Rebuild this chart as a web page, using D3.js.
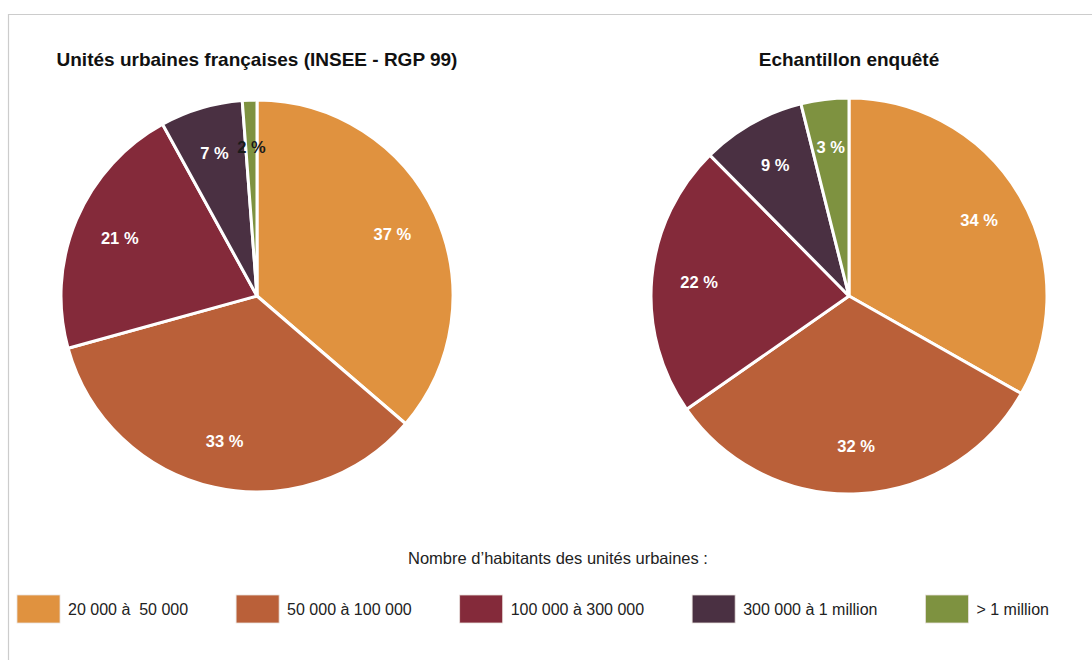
<!DOCTYPE html>
<html>
<head>
<meta charset="utf-8">
<script src="https://cdn.jsdelivr.net/npm/d3@7"></script>
<style>
  html, body { margin: 0; padding: 0; background: #fff; }
  svg { display: block; }
  text { font-family: "Liberation Sans", Arial, Helvetica, sans-serif; }
</style>
</head>
<body>
<svg id="chart" width="1092" height="660"></svg>
<script>
// ---- data ----
const categories = ["20 000 à  50 000", "50 000 à 100 000", "100 000 à 300 000", "300 000 à 1 million", "> 1 million"];
const colors = ["#E0923F", "#BA6039", "#842A3A", "#4A3042", "#7E9240"];
// slice shares as drawn (percent)
const leftShares = [36.3, 34.4, 21.3, 6.8, 1.2];
const rightShares = [33.2, 32.1, 22.3, 8.5, 3.9];
// labels as printed in the slices
const leftLabels = ["37 %", "33 %", "21 %", "7 %", "2 %"];
const rightLabels = ["34 %", "32 %", "22 %", "9 %", "3 %"];
const titles = ["Unités urbaines françaises (INSEE - RGP 99)", "Echantillon enquêté"];
const legendTitle = "Nombre d’habitants des unités urbaines :";

// ---- drawing ----
const svg = d3.select("#chart");
const W = 1092, H = 660;

// frame
svg.append("line").attr("x1", 8).attr("x2", W).attr("y1", 14.5).attr("y2", 14.5)
  .attr("stroke", "#cccccc").attr("stroke-width", 1.2);
svg.append("line").attr("x1", 8.5).attr("x2", 8.5).attr("y1", 14).attr("y2", H)
  .attr("stroke", "#cccccc").attr("stroke-width", 1.2);

const pies = [
  { cx: 257, cy: 296, r: 196, shares: leftShares, labels: leftLabels, title: titles[0], darkIdx: [4] },
  { cx: 849, cy: 296, r: 198, shares: rightShares, labels: rightLabels, title: titles[1], darkIdx: [] }
];

const pie = d3.pie().sort(null).value(d => d.v);

pies.forEach(p => {
  const g = svg.append("g").attr("transform", `translate(${p.cx},${p.cy})`);
  const data = p.shares.map((v, i) => ({ v, i, label: p.labels[i] }));
  const arcs = pie(data);
  const arc = d3.arc().innerRadius(0).outerRadius(p.r);
  const labelArc = d3.arc().innerRadius(p.r * 0.76).outerRadius(p.r * 0.76);

  g.selectAll("path.slice").data(arcs).join("path")
    .attr("class", "slice")
    .attr("d", arc)
    .attr("fill", d => colors[d.data.i])
    .attr("stroke", "#fff")
    .attr("stroke-width", 3)
    .attr("stroke-linejoin", "round");

  g.selectAll("text.lbl").data(arcs).join("text")
    .attr("class", "lbl")
    .attr("transform", d => `translate(${labelArc.centroid(d)})`)
    .attr("text-anchor", "middle")
    .attr("dy", "0.36em")
    .attr("font-size", 16.5)
    .attr("font-weight", "bold")
    .attr("fill", d => p.darkIdx.includes(d.data.i) ? "#1a1a1a" : "#fff")
    .text(d => d.data.label);

  svg.append("text")
    .attr("x", p.cx).attr("y", 66)
    .attr("text-anchor", "middle")
    .attr("font-size", 19)
    .attr("font-weight", "bold")
    .attr("fill", "#111")
    .text(p.title);
});

// legend title
svg.append("text")
  .attr("x", 558).attr("y", 564)
  .attr("text-anchor", "middle")
  .attr("font-size", 16.5)
  .attr("fill", "#222")
  .text(legendTitle);

// legend items (flow layout)
const lg = svg.append("g").attr("class", "legend");
let x = 17;
const swW = 43, swH = 28, swY = 595, gapTxt = 8, gapItem = 48;
categories.forEach((c, i) => {
  lg.append("rect").attr("x", x).attr("y", swY).attr("width", swW).attr("height", swH)
    .attr("fill", colors[i]).attr("stroke", "#e8e0dc").attr("stroke-width", 0.8);
  const t = lg.append("text").attr("x", x + swW + gapTxt).attr("y", swY + swH / 2)
    .attr("dy", "0.36em").attr("font-size", 16).attr("fill", "#222")
    .attr("xml:space", "preserve").style("white-space", "pre")
    .text(c);
  x = x + swW + gapTxt + t.node().getComputedTextLength() + gapItem;
});
</script>
</body>
</html>
